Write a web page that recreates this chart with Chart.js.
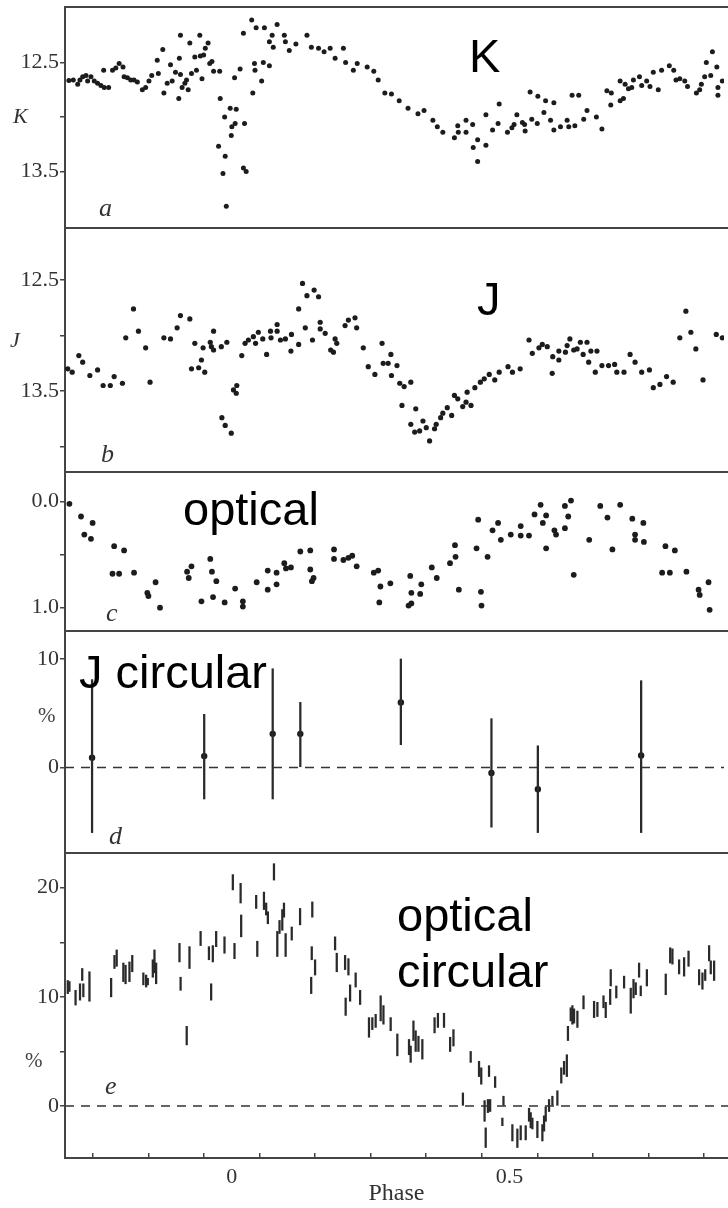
<!DOCTYPE html>
<html>
<head>
<meta charset="utf-8">
<script src="https://cdn.jsdelivr.net/npm/chart.js@4.4.1/dist/chart.umd.min.js"></script>
<style>
  html, body { margin: 0; padding: 0; background: #fff; }
  body { width: 728px; height: 1208px; position: relative; overflow: hidden; }
  canvas { position: absolute; left: 0; }
  .ann { position: absolute; font-family: "Liberation Sans", Arial, sans-serif; font-size: 47px; line-height: 47px; color: #000; white-space: nowrap; }
  .lt { position: absolute; font-family: "Liberation Serif", "Times New Roman", serif; font-style: italic; font-size: 26px; line-height: 26px; color: #333; }
  .yt { position: absolute; font-family: "Liberation Serif", "Times New Roman", serif; font-style: italic; font-size: 22px; line-height: 22px; color: #333; }
  .pc { position: absolute; font-family: "Liberation Serif", "Times New Roman", serif; font-size: 21px; line-height: 22px; color: #444; }
</style>
</head>
<body>
<canvas id="pa" width="728" height="229" style="top:3px"></canvas>
<canvas id="pb" width="728" height="252" style="top:224px"></canvas>
<canvas id="pc" width="728" height="167" style="top:468px"></canvas>
<canvas id="pd" width="728" height="230" style="top:627px"></canvas>
<canvas id="pe" width="728" height="359" style="top:849px"></canvas>

<div class="ann" style="left:469px; top:32px">K</div>
<div class="ann" style="left:477px; top:275px">J</div>
<div class="ann" style="left:183px; top:485px">optical</div>
<div class="ann" style="left:79px; top:648px">J circular</div>
<div class="ann" style="left:397px; top:887px; line-height:56px">optical<br>circular</div>

<div class="yt" style="left:13px; top:105px">K</div>
<div class="yt" style="left:10px; top:329px">J</div>
<div class="pc" style="left:38px; top:704px">%</div>
<div class="pc" style="left:25px; top:1049px">%</div>

<div class="lt" style="left:99px; top:195px">a</div>
<div class="lt" style="left:101px; top:441px">b</div>
<div class="lt" style="left:106px; top:600px">c</div>
<div class="lt" style="left:109px; top:823px">d</div>
<div class="lt" style="left:105px; top:1073px">e</div>

<script>
// ---------------- DATA ----------------
const PHASE_MIN = -0.3;
const PHASE_MAX = 0.893;
const ZERO = 0;

const xTicks = [-0.2, -0.1, 0, 0.1, 0.2, 0.3, 0.4, 0.5, 0.6, 0.7, 0.8];
const xTickLabels = ['', '', '0', '', '', '', '', '0.5', '', '', ''];

// panel a: K magnitude vs phase
const kPoints = [
[-0.293,12.665],[-0.285,12.66],[-0.277,12.70],[-0.273,12.66],[-0.268,12.63],[-0.262,12.62],[-0.259,12.67],[-0.253,12.63],
[-0.247,12.67],[-0.241,12.69],[-0.235,12.71],[-0.229,12.73],[-0.221,12.73],[-0.230,12.57],[-0.214,12.57],[-0.208,12.55],
[-0.202,12.51],[-0.195,12.54],[-0.193,12.63],[-0.187,12.64],[-0.181,12.66],[-0.175,12.66],[-0.169,12.68],[-0.160,12.75],
[-0.154,12.73],[-0.148,12.67],[-0.143,12.62],[-0.133,12.48],[-0.131,12.60],[-0.123,12.38],[-0.121,12.78],[-0.115,12.69],
[-0.109,12.52],[-0.106,12.67],[-0.100,12.59],[-0.094,12.83],[-0.091,12.25],[-0.093,12.46],[-0.091,12.61],[-0.088,12.73],
[-0.083,12.69],[-0.080,12.66],[-0.077,12.75],[-0.074,12.32],[-0.071,12.60],[-0.065,12.45],[-0.062,12.57],[-0.056,12.25],
[-0.055,12.44],[-0.052,12.65],[-0.049,12.43],[-0.046,12.37],[-0.041,12.32],[-0.038,12.51],[-0.034,12.49],[-0.031,12.58],
[-0.020,12.58],[-0.019,12.83],[-0.011,13.00],[-0.022,13.27],[-0.010,13.36],[-0.014,13.52],[-0.008,13.82],[-0.001,12.92],
[0.001,13.17],[0.002,13.09],[0.008,13.06],[0.007,12.64],[0.010,12.93],[0.017,12.56],[0.023,12.23],[0.025,13.06],
[0.023,13.47],[0.028,13.50],[0.038,12.11],[0.046,12.18],[0.061,12.18],[0.084,12.15],[0.075,12.25],[0.070,12.31],
[0.077,12.36],[0.043,12.51],[0.044,12.57],[0.059,12.50],[0.070,12.53],[0.056,12.67],[0.040,12.78],
[0.097,12.25],[0.099,12.31],[0.106,12.39],[0.118,12.33],[0.138,12.25],[0.146,12.36],[0.159,12.37],[0.169,12.40],
[0.180,12.37],[0.189,12.46],[0.204,12.37],[0.208,12.50],[0.222,12.57],[0.229,12.51],[0.247,12.54],[0.259,12.58],
[0.267,12.66],[0.279,12.78],[0.291,12.79],[0.305,12.85],[0.321,12.92],[0.339,12.97],[0.350,12.94],[0.366,13.03],
[0.374,13.09],[0.384,13.14],[0.405,13.19],[0.411,13.08],[0.412,13.14],[0.426,13.03],[0.438,13.07],[0.426,13.14],
[0.447,13.21],[0.439,13.28],[0.447,13.41],[0.462,13.26],[0.462,12.98],
[0.474,13.12],[0.484,13.06],[0.486,12.88],[0.501,13.14],[0.509,13.10],[0.513,13.07],[0.518,12.98],[0.528,13.05],
[0.533,13.13],[0.532,13.07],[0.542,12.77],[0.545,13.02],[0.555,13.06],[0.556,12.81],[0.567,12.96],[0.570,12.85],
[0.579,13.03],[0.585,12.87],[0.585,13.12],[0.597,13.09],[0.609,13.03],[0.612,13.09],[0.618,12.80],[0.623,13.08],
[0.630,12.80],[0.639,13.02],[0.645,12.94],[0.662,13.00],[0.672,13.11],[0.681,12.76],[0.689,12.78],[0.688,12.89],
[0.705,12.85],[0.711,12.83],[0.705,12.67],[0.714,12.70],[0.720,12.74],[0.729,12.66],[0.726,12.73],[0.740,12.63],
[0.744,12.71],[0.753,12.67],[0.759,12.72],[0.765,12.59],[0.774,12.75],[0.780,12.57],[0.794,12.53],[0.802,12.57],
[0.806,12.66],[0.813,12.65],[0.822,12.67],[0.827,12.72],[0.843,12.78],[0.849,12.75],[0.852,12.70],[0.858,12.63],
[0.861,12.50],[0.869,12.62],[0.872,12.40],[0.880,12.54],[0.882,12.73],[0.882,12.80],[0.890,12.67]
];
const kTicks = [12.5, 13.0, 13.5];
const kTickLabels = ['12.5', '', '13.5'];

// panel b: J magnitude vs phase
const jPoints = [
[-0.295,13.30],[-0.287,13.33],[-0.275,13.18],[-0.268,13.24],[-0.255,13.36],[-0.241,13.31],[-0.231,13.45],[-0.218,13.45],
[-0.211,13.37],[-0.196,13.43],[-0.190,13.02],[-0.176,12.76],[-0.167,12.96],[-0.154,13.11],[-0.146,13.42],[-0.121,13.02],
[-0.109,13.03],[-0.097,12.93],[-0.091,12.82],[-0.074,12.85],[-0.071,13.30],[-0.065,13.07],[-0.058,13.29],[-0.053,13.22],
[-0.050,13.11],[-0.047,13.33],[-0.037,13.06],[-0.035,13.10],[-0.031,12.96],[-0.031,13.13],[-0.017,13.10],[-0.007,13.06],
[-0.016,13.74],[-0.010,13.81],[0.001,13.88],[0.005,13.49],[0.010,13.52],[0.011,13.45],[0.020,13.18],[0.026,13.07],
[0.032,13.04],[0.041,13.01],[0.045,13.07],[0.050,12.97],[0.058,13.03],[0.065,13.17],[0.072,12.96],[0.073,13.02],
[0.084,12.90],[0.084,12.96],[0.090,13.04],[0.099,13.03],[0.110,12.99],[0.109,13.14],[0.123,13.08],[0.123,12.76],
[0.130,12.53],[0.138,12.64],[0.135,12.93],[0.151,12.59],[0.159,12.65],[0.148,13.04],[0.162,12.88],[0.162,12.94],
[0.171,12.98],[0.181,13.13],[0.189,13.03],[0.192,13.07],[0.186,13.15],[0.207,12.91],[0.213,12.86],[0.225,12.84],
[0.228,12.93],[0.240,13.11],[0.249,13.28],[0.261,13.35],[0.274,13.07],[0.276,13.25],[0.285,13.25],[0.290,13.17],
[0.291,13.36],[0.301,13.27],[0.306,13.43],[0.314,13.46],[0.326,13.42],[0.310,13.63],[0.335,13.66],[0.326,13.80],
[0.333,13.87],[0.342,13.86],[0.348,13.77],[0.354,13.83],[0.360,13.95],[0.369,13.84],[0.372,13.80],[0.380,13.74],
[0.384,13.70],[0.392,13.65],[0.400,13.72],[0.405,13.54],[0.411,13.57],[0.420,13.64],[0.426,13.60],[0.428,13.51],
[0.435,13.63],[0.442,13.47],[0.452,13.42],[0.459,13.39],
[0.468,13.35],[0.478,13.40],[0.486,13.33],[0.502,13.28],[0.510,13.33],[0.524,13.30],[0.540,13.04],[0.546,13.16],
[0.558,13.11],[0.564,13.08],[0.573,13.10],[0.582,13.34],[0.583,13.19],[0.594,13.14],[0.594,13.22],[0.606,13.15],
[0.609,13.09],[0.614,13.03],[0.621,13.13],[0.627,13.12],[0.633,13.06],[0.638,13.17],[0.645,13.06],[0.648,13.24],
[0.652,13.14],[0.663,13.14],[0.660,13.33],[0.672,13.27],[0.684,13.27],[0.695,13.26],[0.699,13.33],[0.712,13.33],
[0.723,13.17],[0.732,13.24],[0.744,13.33],[0.758,13.31],[0.765,13.47],[0.777,13.44],[0.789,13.37],[0.801,13.42],
[0.813,13.02],[0.824,12.78],[0.833,12.97],[0.842,13.12],[0.855,13.40],[0.879,12.99],[0.890,13.02]
];
const jTicks = [12.5, 13.0, 13.5, 14.0];
const jTickLabels = ['12.5', '', '13.5', ''];

// panel c: optical magnitude (relative) vs phase
const optPoints = [
[-0.292,0.02],[-0.271,0.14],[-0.265,0.31],[-0.253,0.35],[-0.250,0.20],[-0.211,0.42],[-0.193,0.46],[-0.214,0.68],
[-0.202,0.68],[-0.175,0.67],[-0.151,0.86],[-0.149,0.89],[-0.136,0.76],[-0.128,1.00],[-0.079,0.66],[-0.071,0.61],
[-0.076,0.72],[-0.053,0.94],[-0.037,0.54],[-0.034,0.66],[-0.032,0.90],[-0.026,0.75],[-0.011,0.95],[0.008,0.82],
[0.022,0.94],[0.022,0.99],[0.047,0.76],[0.067,0.65],[0.067,0.83],[0.083,0.67],[0.083,0.78],[0.097,0.58],
[0.100,0.63],[0.109,0.62],[0.126,0.47],[0.144,0.46],[0.144,0.64],[0.147,0.75],[0.150,0.72],[0.187,0.45],
[0.187,0.54],[0.204,0.55],[0.213,0.53],[0.220,0.51],[0.228,0.61],
[0.259,0.67],[0.267,0.65],[0.271,0.80],[0.289,0.77],[0.269,0.95],[0.325,0.70],[0.327,0.86],[0.322,0.98],
[0.327,0.96],[0.343,0.87],[0.345,0.78],[0.364,0.62],[0.373,0.72],[0.397,0.58],[0.407,0.52],[0.406,0.41],
[0.413,0.83],[0.445,0.44],[0.448,0.17],[0.453,0.85],[0.454,0.98],[0.465,0.52],[0.474,0.27],[0.484,0.20],
[0.489,0.36],[0.507,0.31],[0.525,0.23],[0.525,0.32],[0.540,0.32],[0.550,0.12],[0.561,0.03],[0.565,0.20],
[0.571,0.13],[0.571,0.44],[0.586,0.27],[0.589,0.31],[0.605,0.04],[0.611,0.14],[0.605,0.25],[0.616,-0.01],
[0.621,0.69],[0.649,0.36],[0.669,0.04],[0.682,0.15],[0.691,0.45],[0.705,0.03],[0.727,0.16],[0.732,0.31],
[0.732,0.36],[0.747,0.20],[0.748,0.38],[0.787,0.42],[0.804,0.46],[0.781,0.67],[0.795,0.67],[0.825,0.66],
[0.847,0.83],[0.849,0.88],[0.865,0.76],[0.867,1.02]
];
const optTicks = [0.0, 0.5, 1.0];
const optTickLabels = ['0.0', '', '1.0'];

// panel d: J circular polarisation (%), [phase, value, low, high]
const jCircular = [
[-0.251, 0.9, -6.0, 8.1],
[-0.048, 1.05, -2.9, 4.9],
[0.076, 3.1, -2.9, 9.1],
[0.126, 3.1, 0.0, 6.0],
[0.308, 6.0, 2.1, 10.0],
[0.472, -0.5, -5.5, 4.5],
[0.556, -2.0, -6.0, 2.0],
[0.743, 1.1, -6.0, 8.0]
];
const jcTicks = [0, 10];
const jcTickLabels = ['0', '10'];

// panel e: optical circular polarisation (%), [phase, low, high]
const optCircular = [
[-0.295,10.3,11.5],[-0.292,10.5,11.4],[-0.281,9.25,10.6],[-0.273,9.7,11.2],[-0.269,11.5,12.6],[-0.267,10.0,11.2],
[-0.256,9.6,12.3],[-0.217,10.0,11.7],[-0.211,12.6,13.8],[-0.207,12.8,14.3],[-0.195,11.4,13.1],[-0.191,11.2,12.9],
[-0.184,11.4,13.2],[-0.179,12.3,13.8],[-0.159,11.1,12.2],[-0.154,10.9,12.0],[-0.151,11.1,11.7],[-0.142,11.8,13.4],
[-0.139,12.2,14.3],[-0.136,11.2,13.1],[-0.094,13.2,14.9],[-0.092,10.6,11.8],[-0.081,5.6,7.3],[-0.076,12.6,14.6],
[-0.056,14.7,16.0],[-0.041,13.4,14.6],[-0.037,9.7,11.2],[-0.034,13.2,14.7],[-0.028,14.6,16.0],[-0.013,14.0,15.5],
[0.002,19.8,21.2],[0.005,13.5,14.9],[0.016,18.6,20.4],[0.017,15.5,17.5],[0.044,18.1,19.3],[0.046,13.7,15.1],
[0.058,18.0,19.6],[0.062,17.5,18.6],[0.065,16.7,17.8],[0.076,20.7,22.2],[0.082,13.7,16.0],[0.086,15.8,17.0],
[0.091,16.1,18.0],[0.094,17.3,18.6],[0.097,13.7,15.8],[0.108,15.2,16.4],[0.123,16.6,18.1],[0.145,17.3,18.7],
[0.144,13.4,14.6],[0.143,10.3,11.8],[0.150,12.0,13.4],[0.186,14.3,15.5],[0.189,12.3,14.0],[0.204,12.5,13.8],
[0.205,8.3,9.9],[0.210,12.0,13.5],[0.213,9.6,11.1],[0.223,10.9,12.2],[0.231,9.3,10.6],
[0.247,6.3,8.1],[0.253,7.0,8.1],[0.259,7.2,8.4],[0.268,7.8,10.1],[0.273,7.5,9.2],[0.286,6.9,8.1],
[0.298,4.6,6.6],[0.319,4.7,6.1],[0.322,4.0,5.5],[0.327,6.0,7.8],[0.331,5.0,6.9],[0.336,5.0,6.4],
[0.343,4.3,6.1],[0.365,6.7,8.1],[0.371,7.2,8.5],[0.382,7.2,8.5],[0.393,5.0,6.3],[0.399,5.5,7.0],
[0.430,4.0,5.0],[0.445,2.7,4.1],[0.449,2.0,3.5],[0.463,2.7,3.7],[0.474,1.7,2.7],[0.416,0.0,1.2],
[0.455,-1.4,0.5],[0.457,-3.8,-2.0],[0.461,-0.6,0.6],[0.465,-0.5,0.6],[0.489,0.0,0.9],[0.487,-1.8,-1.1],
[0.505,-3.2,-1.7],[0.514,-3.8,-2.1],[0.520,-3.1,-1.8],[0.529,-3.1,-1.8],[0.535,-1.4,-0.2],[0.538,-2.0,-0.6],
[0.541,-2.1,-1.1],[0.550,-2.9,-1.4],[0.559,-3.2,-1.7],[0.562,-2.3,-0.9],[0.565,-1.4,0.0],[0.571,-0.5,0.6],
[0.577,0.0,0.9],[0.586,0.0,1.4],[0.593,2.1,3.5],[0.598,2.9,4.1],[0.603,2.7,4.7],[0.605,6.0,7.3],
[0.610,7.8,9.0],[0.613,7.5,9.2],[0.616,7.6,8.9],[0.622,7.2,8.7],[0.633,8.9,10.1],[0.652,8.1,9.6],
[0.658,8.2,9.5],[0.669,9.0,10.1],[0.673,8.1,9.5],[0.682,11.0,12.5],[0.681,9.3,10.7],[0.692,9.9,11.0],
[0.706,10.8,11.9],[0.718,8.5,10.8],[0.723,9.9,11.6],[0.727,10.2,11.3],[0.733,11.8,13.1],[0.736,10.1,11.0],
[0.747,11.0,12.5],[0.781,10.2,12.1],[0.789,13.1,14.5],[0.793,13.0,14.4],[0.805,12.1,13.4],[0.814,11.9,13.6],
[0.822,12.8,14.2],[0.841,11.1,12.5],[0.847,10.7,12.2],[0.852,11.5,12.5],[0.859,13.3,14.7],[0.862,12.1,13.3],
[0.868,11.5,13.3]
];
const ocTicks = [0, 5, 10, 15, 20];
const ocTickLabels = ['0', '', '10', '', '20'];

// ---------------- CHARTS ----------------
const INK = '#1c1c1c';
const FRAME = '#444';
Chart.defaults.font.family = '"Liberation Serif", "Times New Roman", serif';
Chart.defaults.font.size = 22;
Chart.defaults.color = '#333';

const topFrame = {
  id: 'topFrame',
  afterDraw(chart) {
    const { ctx, chartArea: a } = chart;
    ctx.save();
    ctx.strokeStyle = FRAME;
    ctx.lineWidth = 2;
    ctx.beginPath();
    ctx.moveTo(a.left - 1, a.top);
    ctx.lineTo(chart.width, a.top);
    ctx.stroke();
    ctx.restore();
  }
};

function yAxis(min, max, reverse, ticks, labels) {
  return {
    type: 'linear', min, max, reverse,
    afterBuildTicks(scale) { scale.ticks = ticks.map(v => ({ value: v })); },
    ticks: { autoSkip: false, padding: 1, color: '#333', font: { size: 22 },
             callback: (v, i) => labels[i] },
    grid: { display: true, drawOnChartArea: false, drawTicks: true, tickLength: 5, color: FRAME, lineWidth: 1.5 },
    border: { display: true, color: FRAME, width: 2 },
    afterFit(scale) { scale.width = 65; scale.paddingTop = 0; scale.paddingBottom = 0; }
  };
}

function xAxis(show) {
  return {
    type: 'linear', min: PHASE_MIN, max: PHASE_MAX, offset: false, display: show,
    afterBuildTicks(scale) { scale.ticks = xTicks.map(v => ({ value: v })); },
    ticks: { autoSkip: false, maxRotation: 0, padding: 11, color: '#333', font: { size: 22 },
             callback: (v, i) => xTickLabels[i] },
    grid: { display: true, drawOnChartArea: false, drawTicks: true, tickLength: -5, color: FRAME, lineWidth: 1.5 },
    border: { display: true, color: FRAME, width: 2 },
    title: { display: show, text: 'Phase', color: '#333', font: { size: 24 }, padding: { top: 0, bottom: 0 } },
    afterFit(scale) { scale.height = show ? 50 : 0; scale.paddingLeft = 0; scale.paddingRight = 0; }
  };
}

function makeChart(id, datasets, y, showX, padBottom) {
  return new Chart(document.getElementById(id), {
    type: 'scatter',
    data: { datasets },
    options: {
      responsive: false, animation: false, devicePixelRatio: 1, events: [],
      layout: { padding: { top: 4, bottom: padBottom, left: 0, right: 0 } },
      plugins: { legend: { display: false }, tooltip: { enabled: false } },
      scales: { x: xAxis(showX), y }
    },
    plugins: [topFrame]
  });
}

const dots = (pts, r) => ({
  type: 'scatter',
  data: pts.map(p => ({ x: p[0], y: p[1] })),
  pointRadius: r, pointBackgroundColor: INK, pointBorderColor: INK, pointBorderWidth: 0
});

const zeroLine = {
  type: 'line',
  data: [{ x: PHASE_MIN, y: ZERO }, { x: PHASE_MAX, y: ZERO }],
  borderColor: '#333', borderWidth: 1.5, borderDash: [9, 7], pointRadius: 0, fill: false
};

makeChart('pa', [dots(kPoints, 2.5)], yAxis(11.99, 14.02, true, kTicks, kTickLabels), false, 4);
makeChart('pb', [dots(jPoints, 2.6)], yAxis(12.03, 14.23, true, jTicks, jTickLabels), false, 4);
makeChart('pc', [dots(optPoints, 2.9)], yAxis(-0.28, 1.22, true, optTicks, optTickLabels), false, 4);

makeChart('pd', [
  zeroLine,
  { type: 'bar', data: jCircular.map(r => ({ x: r[0], y: [r[2], r[3]] })),
    backgroundColor: '#2a2a2a', barThickness: 1.6, grouped: false, borderWidth: 0 },
  dots(jCircular, 3.2)
], yAxis(-7.88, 12.58, false, jcTicks, jcTickLabels), false, 4);

makeChart('pe', [
  zeroLine,
  { type: 'bar', data: optCircular.map(r => ({ x: r[0], y: [r[1], r[2]] })),
    backgroundColor: '#2a2a2a', barThickness: 1.6, grouped: false, borderWidth: 0 }
], yAxis(-4.76, 23.18, false, ocTicks, ocTickLabels), true, 0);
</script>
</body>
</html>
